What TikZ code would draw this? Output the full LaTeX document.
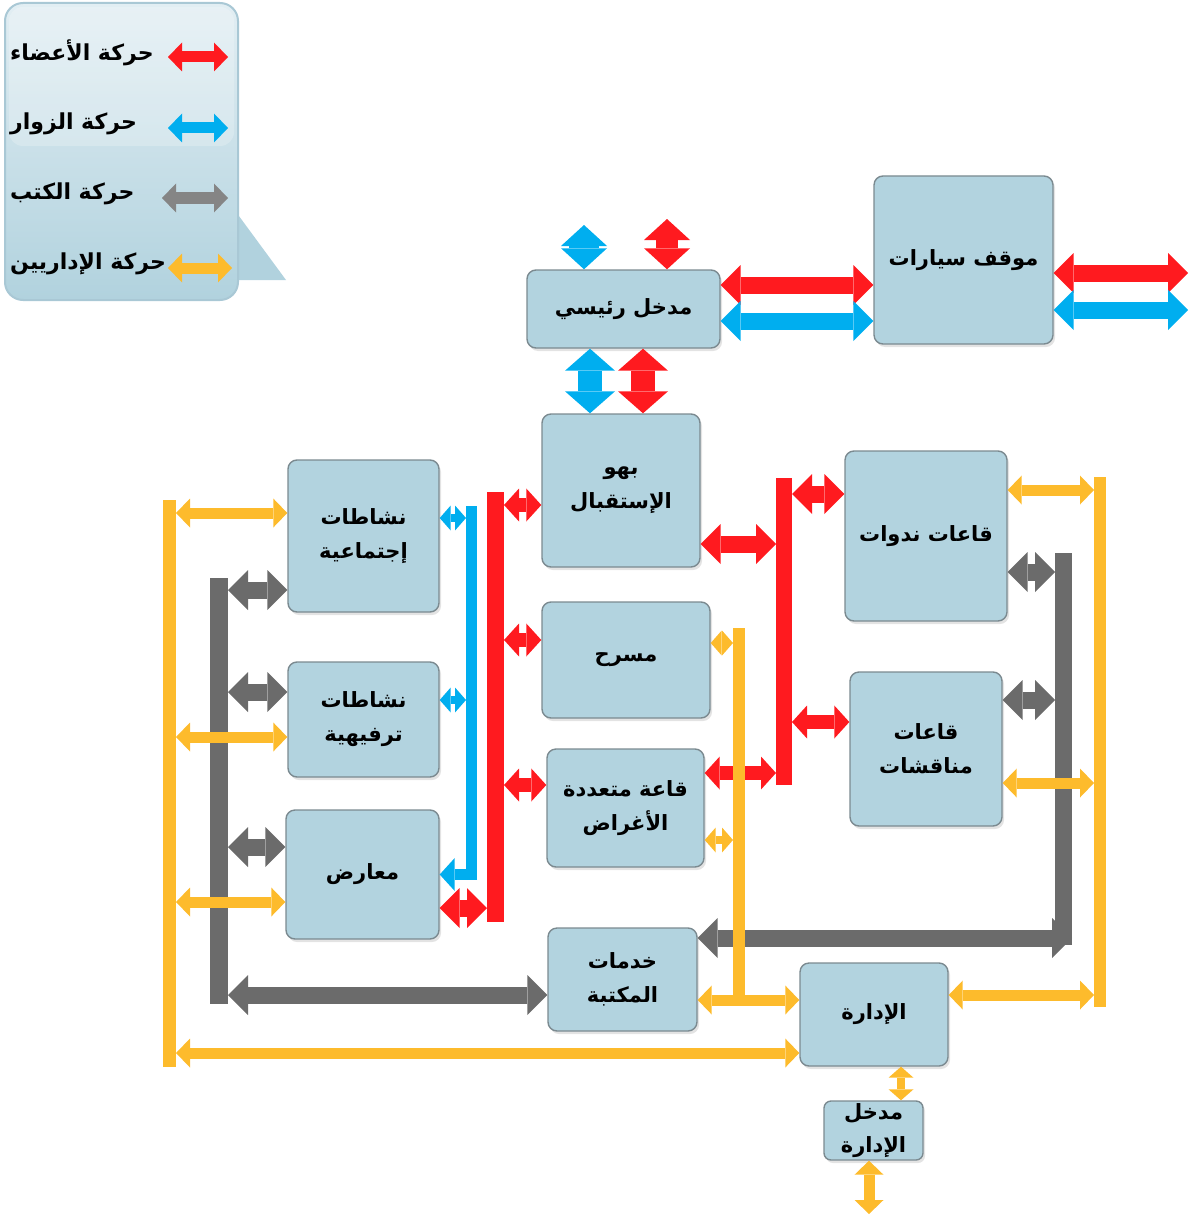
\documentclass[tikz,border=0pt]{standalone}
\usepackage{fontspec}
\usetikzlibrary{arrows.meta, shadows}
\newfontfamily\arabicfont[Script=Arabic]{DejaVu Sans}
\TeXXeTstate=1
\definecolor{boxfill}{HTML}{B2D3DF}
\definecolor{boxline}{HTML}{7B8A90}
\definecolor{memred}{HTML}{FF1A1F}
\definecolor{visblue}{HTML}{00AEEF}
\definecolor{bookgray}{HTML}{6B6B6B}
\definecolor{keygray}{HTML}{858585}
\definecolor{admorange}{HTML}{FDBB2C}
\definecolor{keytop}{HTML}{E2EEF3}
\definecolor{keybot}{HTML}{B1D2DE}
\definecolor{keyline}{HTML}{A9C8D5}
\newcommand{\ar}[1]{\beginR #1\endR}
\tikzset{
  tipXL/.tip={Triangle[length=22pt, width=50pt, line width=0pt]},
  tipT/.tip={Triangle[length=21pt, width=46pt, line width=0pt]},
  tipL/.tip={Triangle[length=20pt, width=40pt, line width=0pt]},
  tipM/.tip={Triangle[length=15pt, width=33pt, line width=0pt]},
  tipS/.tip={Triangle[length=14pt, width=29pt, line width=0pt]},
  tipXS/.tip={Triangle[length=11pt, width=25pt, line width=0pt]},
}

\begin{document}
\begin{tikzpicture}[x=1pt, y=-1pt,
    room/.style={draw=boxline, fill=boxfill, line width=1.4pt,
                 rounded corners=9pt, align=center, inner sep=2pt,
                 font=\arabicfont\bfseries\fontsize{21}{34}\selectfont,
                 drop shadow={shadow xshift=2pt, shadow yshift=-3pt, opacity=0.22}},
    roomtext/.style={align=center, inner sep=0pt,
                 font=\arabicfont\bfseries\fontsize{21}{33}\selectfont},
    keytext/.style={anchor=west, inner sep=0pt,
                 font=\arabicfont\bfseries\fontsize{22}{24}\selectfont},
    bar/.style={fill=#1, draw=none, inner sep=0pt, outer sep=0pt},
    heavy/.style={line width=24pt, tipXL-tipXL},
    topflow/.style={line width=22pt, tipT-tipT},
    wide/.style={line width=17pt, tipL-tipL},
    medium/.style={line width=14pt, tipM-tipM},
    light/.style={line width=11pt, tipS-tipS},
    tiny/.style={line width=8pt, tipXS-tipXS},
    keyflow/.style={line width=11pt, tipS-tipS},
  ]

  \useasboundingbox (0,0) rectangle (1188,1217);

  % ---------------- legend ----------------
  \fill[keybot] (236,212) -- (286,280) -- (236,280) -- cycle;
  \shadedraw[top color=keytop, bottom color=keybot, draw=keyline,
             line width=2pt, rounded corners=18pt] (5,3) rectangle (238,300);
  \fill[white, opacity=0.22, rounded corners=14pt] (9,7) rectangle (234,146);
  \foreach \i/\col/\yy/\xa/\xb/\txt in {1/memred/57/168/228/حركة الأعضاء,
                                       2/visblue/128/168/228/حركة الزوار,
                                       3/keygray/198/162/228/حركة الكتب,
                                       4/admorange/268/168/232/حركة الإداريين}{
    \coordinate (key\i a) at (\xa,\yy);
    \coordinate (key\i b) at (\xb,\yy);
    \draw[keyflow, \col] (key\i a) -- (key\i b);
    \node[keytext] (keytxt\i) at (10,\yy-4) {\ar{\txt}};
  }

  % ---------------- rooms ----------------
  \node[room, minimum width=193pt, minimum height=78pt]  (main)    at (623.5,309)  {\ar{مدخل رئيسي}};
  \node[room, minimum width=179pt, minimum height=168pt] (park)    at (963.5,260)  {\ar{موقف سيارات}};
  \node[room, minimum width=158pt, minimum height=153pt] (lobby)   at (621,490.5)  {\ar{بهو}\\\ar{الإستقبال}};
  \node[room, minimum width=151pt, minimum height=152pt] (soc)     at (363.5,536)  {\ar{نشاطات}\\\ar{إجتماعية}};
  \node[room, minimum width=168pt, minimum height=116pt] (theatre) at (626,660)    {\ar{مسرح}};
  \node[room, minimum width=157pt, minimum height=118pt] (multi)   at (625.5,808)  {\ar{قاعة متعددة}\\\ar{الأغراض}};
  \node[room, minimum width=151pt, minimum height=115pt] (recr)    at (363.5,719.5){\ar{نشاطات}\\\ar{ترفيهية}};
  \node[room, minimum width=153pt, minimum height=129pt] (expo)    at (362.5,874.5){\ar{معارض}};
  \node[room, minimum width=162pt, minimum height=170pt] (seminar) at (926,536)    {\ar{قاعات ندوات}};
  \node[room, minimum width=152pt, minimum height=154pt] (discuss) at (926,749)    {\ar{قاعات}\\\ar{مناقشات}};
  \node[room, minimum width=149pt, minimum height=103pt] (lib)     at (622.5,979.5){\ar{خدمات}\\\ar{المكتبة}};
  \node[room, minimum width=148pt, minimum height=103pt] (admin)   at (874,1014.5) {\ar{الإدارة}};
  \node[room, minimum width=99pt, minimum height=59pt, rounded corners=7pt] (adminEnt) at (873.5,1130.5) {};
  \node[roomtext] (adminEntTxt) at (adminEnt) {\ar{مدخل}\\\ar{الإدارة}};

  % ---------------- books (gray) ----------------
  \node[bar=bookgray, minimum width=18pt, minimum height=426pt] (grayW) at (219,791) {};
  \node[bar=bookgray, minimum width=17pt, minimum height=392pt] (grayE) at (1063.5,749) {};
  \draw[wide, bookgray] ([yshift=-54pt]soc.west)    -- ([yshift=-54pt]soc.west -| grayW.east);
  \draw[wide, bookgray] ([yshift=27.5pt]recr.west)  -- ([yshift=27.5pt]recr.west -| grayW.east);
  \draw[wide, bookgray] ([yshift=27.5pt]expo.west)  -- ([yshift=27.5pt]expo.west -| grayW.east);
  \draw[wide, bookgray] ([yshift=-15.5pt]lib.west)  -- ([yshift=-15.5pt]lib.west -| grayW.east);
  \draw[wide, bookgray] ([yshift=-36pt]seminar.east) -- ([yshift=-36pt]seminar.east -| grayE.west);
  \draw[wide, bookgray] ([yshift=49pt]discuss.east) -- ([yshift=49pt]discuss.east -| grayE.west);
  \draw[wide, bookgray] ([yshift=41.5pt]lib.east)   -- ([yshift=41.5pt]lib.east -| grayE.east);
  \node[bar=bookgray, minimum width=17pt, minimum height=392pt] at (grayE) {};

  % ---------------- members (red) ----------------
  \coordinate (upR) at (667,219);
  \coordinate (outR) at (1188,273);
  \draw[topflow, memred] ([xshift=43.5pt]main.north) -- (upR);
  \draw[heavy, memred] ([xshift=19.5pt]main.south) -- ([xshift=19.5pt]main.south |- lobby.north);
  \draw[wide, memred] ([yshift=24pt]main.east) -- ([yshift=24pt]main.east -| park.west);
  \draw[wide, memred] (park.east |- outR) -- (outR);
  \node[bar=memred, minimum width=17pt, minimum height=430pt] (redW) at (495.5,707) {};
  \node[bar=memred, minimum width=16pt, minimum height=307pt] (redE) at (784,631.5) {};
  \draw[medium, memred] ([yshift=-14.5pt]lobby.west) -- ([yshift=-14.5pt]lobby.west -| redW.east);
  \draw[medium, memred] ([yshift=20pt]theatre.west)  -- ([yshift=20pt]theatre.west -| redW.east);
  \draw[medium, memred] ([yshift=23pt]multi.west)    -- ([yshift=23pt]multi.west -| redW.east);
  \draw[wide, memred]   ([yshift=-33.5pt]expo.east)  -- ([yshift=-33.5pt]expo.east -| redW.west);
  \draw[wide, memred]   ([yshift=-53.5pt]lobby.east) -- ([yshift=-53.5pt]lobby.east -| redE.west);
  \draw[wide, memred]   ([yshift=42pt]seminar.west)  -- ([yshift=42pt]seminar.west -| redE.east);
  \draw[medium, memred] ([yshift=27pt]discuss.west)  -- ([yshift=27pt]discuss.west -| redE.east);
  \draw[medium, memred] ([yshift=35pt]multi.east)    -- ([yshift=35pt]multi.east -| redE.west);

  % ---------------- visitors (blue) ----------------
  \coordinate (upB) at (584,225);
  \coordinate (outB) at (1188,310);
  \draw[topflow, visblue, line width=30pt] ([xshift=-39.5pt]main.north) -- (upB);
  \draw[heavy, visblue] ([xshift=-33.5pt]main.south) -- ([xshift=-33.5pt]main.south |- lobby.north);
  \draw[wide, visblue] ([yshift=-12pt]main.east) -- ([yshift=-12pt]main.east -| park.west);
  \draw[wide, visblue] (park.east |- outB) -- (outB);
  \node[bar=visblue, minimum width=11pt, minimum height=374pt] (blueW) at (471.5,693) {};
  \draw[tiny, visblue] ([yshift=18pt]soc.east)    -- ([yshift=18pt]soc.east -| blueW.west);
  \draw[tiny, visblue] ([yshift=19.5pt]recr.east) -- ([yshift=19.5pt]recr.east -| blueW.west);
  \draw[visblue, line width=11pt, -tipM] (blueW.south east |- expo.east) -- (expo.east);

  % ---------------- administrators (orange) ----------------
  \node[bar=admorange, minimum width=13pt, minimum height=567pt] (orangeW) at (169.5,783.5) {};
  \node[bar=admorange, minimum width=12pt, minimum height=374pt] (orangeM) at (739,815) {};
  \node[bar=admorange, minimum width=12pt, minimum height=530pt] (orangeE) at (1100,742) {};
  \draw[light, admorange] ([yshift=23pt]soc.west)     -- ([yshift=23pt]soc.west -| orangeW.east);
  \draw[light, admorange] ([yshift=-17.5pt]recr.west) -- ([yshift=-17.5pt]recr.west -| orangeW.east);
  \draw[light, admorange] ([yshift=-27.5pt]expo.west) -- ([yshift=-27.5pt]expo.west -| orangeW.east);
  \draw[light, admorange] ([yshift=-38.5pt]admin.west) -- ([yshift=-38.5pt]admin.west -| orangeW.east);
  \draw[tiny, admorange]  ([yshift=17pt]theatre.east) -- ([yshift=17pt]theatre.east -| orangeM.west);
  \draw[tiny, admorange]  ([yshift=-32pt]multi.east)  -- ([yshift=-32pt]multi.east -| orangeM.west);
  \draw[light, admorange] ([yshift=-20.5pt]lib.east)  -- ([yshift=-20.5pt]lib.east -| admin.west);
  \draw[light, admorange] ([yshift=46pt]seminar.east) -- ([yshift=46pt]seminar.east -| orangeE.west);
  \draw[light, admorange] ([yshift=-34pt]discuss.east) -- ([yshift=-34pt]discuss.east -| orangeE.west);
  \draw[light, admorange] ([yshift=19.5pt]admin.east) -- ([yshift=19.5pt]admin.east -| orangeE.west);
  \draw[tiny, admorange]  ([xshift=27pt]admin.south)  -- ([xshift=27pt]admin.south |- adminEnt.north);
  \coordinate (admOut) at (869,1214);
  \draw[light, admorange] (admOut |- adminEnt.south) -- (admOut);

\end{tikzpicture}
\end{document}
